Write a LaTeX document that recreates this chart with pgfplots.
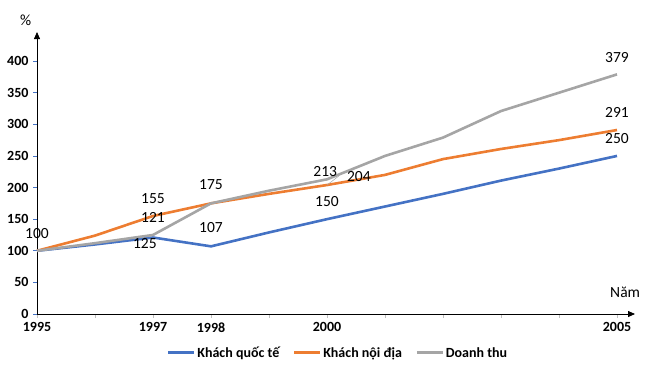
\documentclass[border=0pt]{standalone}
\usepackage{pgfplots}
\pgfplotsset{compat=1.18}
\usepackage{fontspec}
\setmainfont{Carlito}
\usetikzlibrary{arrows.meta}
\definecolor{cblue}{HTML}{4472C4}
\definecolor{corange}{HTML}{ED7D31}
\definecolor{cgray}{HTML}{A5A5A5}
\begin{document}
\begin{tikzpicture}
\useasboundingbox (-37pt,-51pt) rectangle (624pt,314pt);
\begin{axis}[
  scale only axis,
  width=598pt, height=282pt,
  xmin=1995, xmax=2005.31,
  ymin=0, ymax=446,
  axis lines=left,
  axis line style={black, line width=0.8pt, -{Triangle[length=7pt,width=6pt]}},
  xtick={1995,1996,...,2005},
  xticklabels={1995,,1997,1998,,2000,,,,,2005},
  ytick={0,50,...,400},
  tick label style={font=\fontsize{14}{16}\selectfont\bfseries},
  /pgf/number format/assume math mode=true,
  /pgf/number format/1000 sep={},
  x tick style={draw=gray!50, line width=0.5pt},
  y tick style={draw=cblue, line width=0.6pt},
  tick align=outside,
  major tick length=4pt,
  xticklabel style={yshift=-1pt},
  yticklabel style={xshift=-1pt},
  legend columns=3,
  legend style={draw=none, fill=none, at={(0.503,-0.138)}, anchor=center,
    font=\fontsize{14}{16}\selectfont\bfseries,
    /tikz/every even column/.append style={column sep=12pt},
    nodes={inner xsep=1.5pt}},
  legend image code/.code={\draw[#1, line width=3pt] (0pt,0pt) -- (26pt,0pt);},
  clip=false,
]
\addplot[cblue, line width=2.6pt, line join=round] coordinates {
 (1995,100) (1996,110) (1997,121) (1998,107) (1999,129) (2000,150)
 (2001,170) (2002,190) (2003,211) (2004,230) (2005,250)};
\addlegendentry{Khách quốc tế}
\addplot[corange, line width=2.6pt, line join=round] coordinates {
 (1995,100) (1996,124) (1997,155) (1998,175) (1999,190) (2000,204)
 (2001,220) (2002,245) (2003,261) (2004,275) (2005,291)};
\addlegendentry{Khách nội địa}
\addplot[cgray, line width=2.6pt, line join=round] coordinates {
 (1995,100) (1996,112) (1997,125) (1998,175) (1999,195) (2000,213)
 (2001,250) (2002,279) (2003,321) (2004,350) (2005,379)};
\addlegendentry{Doanh thu}
\draw[cgray, line width=0.5pt] (axis cs:2000,204) -- (axis cs:2000.2,218);
\begin{scope}[every node/.style={font=\fontsize{15.5}{17}\selectfont}]
\node at (axis cs:1995,128) {100};
\node at (axis cs:1997,182) {155};
\node at (axis cs:1997,152) {121};
\node at (axis cs:1996.86,112) {125};
\node at (axis cs:1998,204) {175};
\node at (axis cs:1998,136) {107};
\node at (axis cs:1999.97,226) {213};
\node at (axis cs:2000.55,218) {204};
\node at (axis cs:2000,178) {150};
\node at (axis cs:2005,406) {379};
\node at (axis cs:2005,318) {291};
\node at (axis cs:2005,278) {250};
\node at (axis cs:2005.14,35) {Năm};
\node at (rel axis cs:-0.019,1.04) {\%};
\end{scope}
\end{axis}
\end{tikzpicture}
\end{document}
